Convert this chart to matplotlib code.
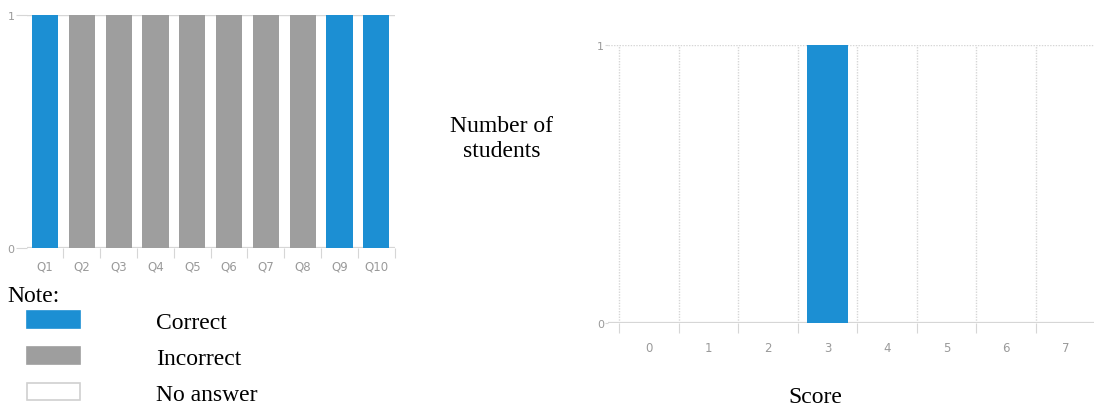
import matplotlib.pyplot as plt
from matplotlib.patches import Patch
import numpy as np

# question results (1 = answered by the student)
questions = ['Q1', 'Q2', 'Q3', 'Q4', 'Q5', 'Q6', 'Q7', 'Q8', 'Q9', 'Q10']
answered = [1, 1, 1, 1, 1, 1, 1, 1, 1, 1]
status = ['Correct', 'Incorrect', 'Incorrect', 'Incorrect', 'Incorrect',
          'Incorrect', 'Incorrect', 'Incorrect', 'Correct', 'Correct']

# score distribution
scores = [0, 1, 2, 3, 4, 5, 6, 7]
n_students = [0, 0, 0, 1, 0, 0, 0, 0]

legend_labels = ['Correct', 'Incorrect', 'No answer']

BLUE = '#1c8fd3'
GREY = '#9e9e9e'
colors = {'Correct': BLUE, 'Incorrect': GREY, 'No answer': 'white'}
TICK = '#9a9a9a'
LINE = '#d6d6d6'
SERIF = 'Liberation Serif'
FS = 17


def style_axes(ax, n, ytick_len, xpad):
    for s in ax.spines.values():
        s.set_visible(False)
    ax.axhline(0, color=LINE, lw=1.6, zorder=1)
    ax.set_ylim(0, 1)
    ax.set_yticks([0, 1])
    ax.tick_params(axis='y', length=ytick_len, width=0.8, color=LINE,
                   labelcolor=TICK, labelsize=8, pad=1)
    ax.set_xticks(np.arange(n))
    ax.set_xticks(np.arange(n + 1) - 0.5, minor=True)
    ax.tick_params(axis='x', which='major', length=0, labelcolor=TICK,
                   labelsize=8.5, pad=xpad)
    ax.tick_params(axis='x', which='minor', length=7, width=0.8, color=LINE)


def main():
    fig = plt.figure(figsize=(10.94, 4.10), dpi=100)

    # left chart: per question
    ax1 = fig.add_axes([0.0247, 0.3927, 0.3364, 0.5683])
    x = np.arange(len(questions))
    ax1.bar(x, answered, width=0.71, color=[colors[s] for s in status], zorder=2)
    style_axes(ax1, len(questions), 8, 8)
    ax1.axhline(1, color=LINE, lw=1.0, zorder=1)
    ax1.set_xlim(-0.49, 9.51)
    ax1.set_xticklabels(questions)

    fig.text(7 / 1094, 1 - 297 / 410, 'Note:', family=SERIF, fontsize=FS,
             va='center', ha='left')
    handles = [Patch(facecolor=colors[l],
                     edgecolor='#d0d0d0' if l == 'No answer' else colors[l],
                     lw=1.2) for l in legend_labels]
    fig.legend(handles, legend_labels, loc='upper left',
               bbox_to_anchor=(27 / 1094, 1 - 312 / 410), frameon=False,
               prop={'family': SERIF, 'size': FS}, handlelength=2.25,
               handleheight=0.7, handletextpad=3.2, labelspacing=0.62,
               borderpad=0, borderaxespad=0)

    # right chart: score distribution
    ax2 = fig.add_axes([0.5558, 0.2098, 0.4442, 0.678])
    ax2.bar(scores, n_students, width=0.69, color=BLUE, zorder=2)
    style_axes(ax2, len(scores), 2, 13)
    ax2.set_xlim(-0.69, 7.48)
    for b in np.arange(len(scores) + 1) - 0.5:
        ax2.axvline(b, color=LINE, lw=1.0, ls=(0, (1, 1)), zorder=1)
    ax2.axhline(1, color=LINE, lw=1.0, ls=(0, (1, 1)), zorder=1)
    ax2.set_xticklabels([str(s) for s in scores])

    fig.text(502 / 1094, 1 - 139 / 410, 'Number of\nstudents', family=SERIF,
             fontsize=FS, ha='center', va='center', linespacing=1.2)
    fig.text(815 / 1094, 1 - 398 / 410, 'Score', family=SERIF, fontsize=FS,
             ha='center', va='center')

    fig.savefig('out.png', dpi=100)
    plt.close(fig)


if __name__ == "__main__":
    main()
